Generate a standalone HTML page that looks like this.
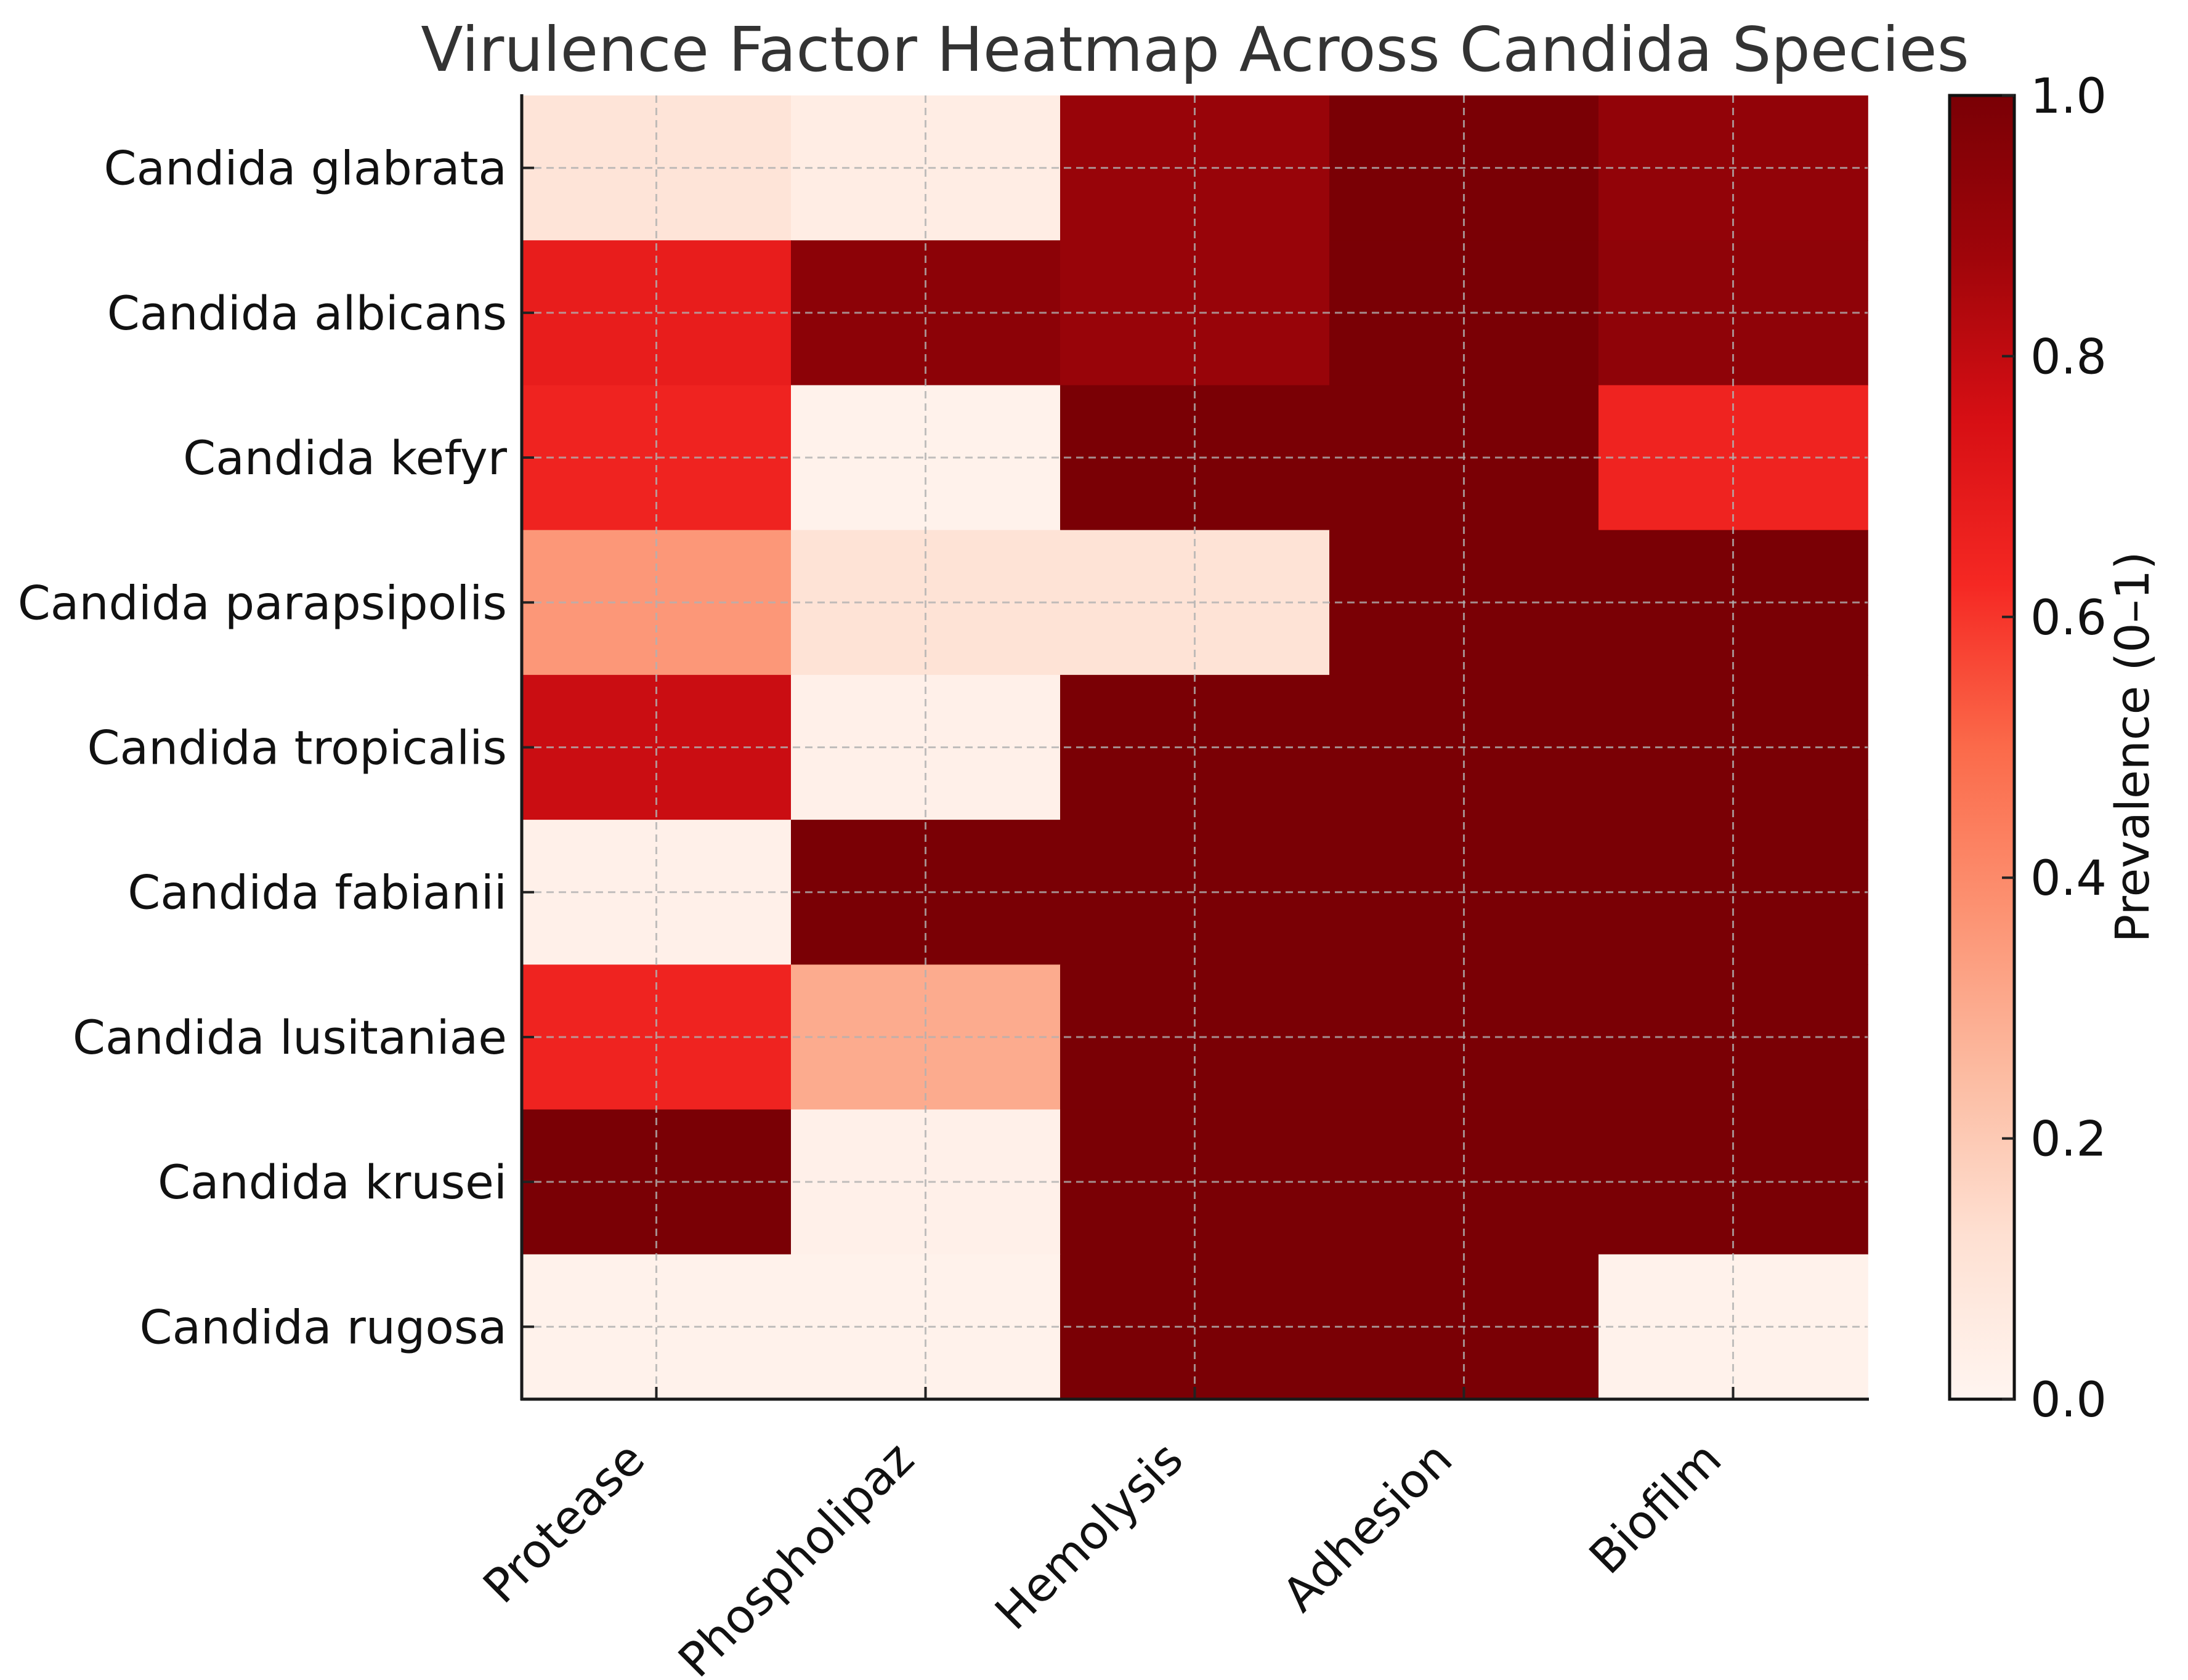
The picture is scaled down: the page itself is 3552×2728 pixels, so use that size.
<!DOCTYPE html>
<html><head><meta charset="utf-8"><style>
html,body{margin:0;padding:0;background:#fff;}
svg{display:block;font-family:"DejaVu Sans","Liberation Sans",sans-serif;}
</style></head><body>
<svg id="chart" xmlns="http://www.w3.org/2000/svg" width="3552" height="2728" viewBox="0 0 3552 2728">
<rect width="3552" height="2728" fill="#fff"/>
<text x="1940" y="115" font-size="100" text-anchor="middle" fill="#333">Virulence Factor Heatmap Across Candida Species</text>
<defs>
<linearGradient id="cbgrad" x1="0" y1="1" x2="0" y2="0">
<stop offset="0" stop-color="#fff5f0"/><stop offset="0.125" stop-color="#fee0d2"/><stop offset="0.25" stop-color="#fcbba1"/><stop offset="0.375" stop-color="#fc9272"/><stop offset="0.5" stop-color="#fb6a4a"/><stop offset="0.625" stop-color="#f52823"/><stop offset="0.75" stop-color="#d70f14"/><stop offset="0.875" stop-color="#a0050a"/><stop offset="1" stop-color="#7a0005"/>
</linearGradient>
</defs>
<g id="cells"></g>
<g id="grid"></g>
<g id="axes"></g>
<rect x="3165" y="155" width="105" height="2117" fill="url(#cbgrad)" stroke="#111" stroke-width="5"/>
<g id="cbticks"></g>
<text transform="translate(3488,1213) rotate(-90)" font-size="76" text-anchor="middle" fill="#111">Prevalence (0–1)</text>
</svg>
<script>
const species = ["Candida glabrata","Candida albicans","Candida kefyr","Candida parapsipolis","Candida tropicalis","Candida fabianii","Candida lusitaniae","Candida krusei","Candida rugosa"];
const factors = ["Protease","Phospholipaz","Hemolysis","Adhesion","Biofilm"];
const rowGlabrata = [0.10,0.05,0.90,1.00,0.92];
const rowAlbicans = [0.68,0.94,0.90,1.00,0.93];
const rowKefyr = [0.65,0.02,1.00,1.00,0.65];
const rowParapsipolis = [0.36,0.11,0.11,1.00,1.00];
const rowTropicalis = [0.78,0.03,1.00,1.00,1.00];
const rowFabianii = [0.03,1.00,1.00,1.00,1.00];
const rowLusitaniae = [0.65,0.30,1.00,1.00,1.00];
const rowKrusei = [1.00,0.03,1.00,1.00,1.00];
const rowRugosa = [0.02,0.02,1.00,1.00,0.02];
const values = [rowGlabrata,rowAlbicans,rowKefyr,rowParapsipolis,rowTropicalis,rowFabianii,rowLusitaniae,rowKrusei,rowRugosa];
const cbTicks = [0.0,0.2,0.4,0.6,0.8,1.0];
const cbTickLabels = ["0.0","0.2","0.4","0.6","0.8","1.0"];

const NS="http://www.w3.org/2000/svg";
const L=847,R=3032,T=155,B=2272;
const cw=(R-L)/factors.length, rh=(B-T)/species.length;
const xPos=i=>L+i*cw, yPos=j=>T+j*rh;
const cbY=v=>B-(B-T)*v;
const stops=[[255,245,240],[254,224,210],[252,187,161],[252,146,114],[251,106,74],[245,40,35],[215,15,20],[160,5,10],[122,0,5]];
function reds(v){v=Math.max(0,Math.min(1,v));const p=v*8,i=Math.min(7,Math.floor(p)),f=p-i;const a=stops[i],b=stops[i+1];return `rgb(${a.map((c,k)=>Math.round(c+(b[k]-c)*f)).join(',')})`;}
function mk(tag,attrs,parent,text){const e=document.createElementNS(NS,tag);for(const k in attrs)e.setAttribute(k,attrs[k]);if(text!==undefined)e.textContent=text;parent.appendChild(e);return e;}
const cells=document.getElementById('cells'),grid=document.getElementById('grid'),axes=document.getElementById('axes'),cbt=document.getElementById('cbticks');
values.forEach((row,j)=>row.forEach((v,i)=>{
  const r=mk('rect',{x:xPos(i),y:yPos(j),width:cw+0.8,height:rh+0.8,fill:reds(v)},cells);
  
  
}));
factors.forEach((f,i)=>{
  const cx=xPos(i)+cw/2;
  const g=mk('line',{x1:cx,y1:T,x2:cx,y2:B,stroke:'#b0b0b0','stroke-width':3,'stroke-dasharray':'12 8','stroke-opacity':0.8},grid);
  
  
  mk('line',{x1:cx,y1:B,x2:cx,y2:B-20,stroke:'#222','stroke-width':4},axes);
  const t=mk('text',{transform:`translate(${cx-55},${B+62}) rotate(-45)`,'font-size':76,'text-anchor':'end','dominant-baseline':'hanging',fill:'#111'},axes,f);
  
  
});
species.forEach((s,j)=>{
  const cy=yPos(j)+rh/2;
  const g=mk('line',{x1:L,y1:cy,x2:R,y2:cy,stroke:'#b0b0b0','stroke-width':3,'stroke-dasharray':'12 8','stroke-opacity':0.8},grid);
  
  
  mk('line',{x1:L,y1:cy,x2:L+20,y2:cy,stroke:'#222','stroke-width':4},axes);
  const t=mk('text',{x:L-24,y:cy+27,'font-size':76,'text-anchor':'end',fill:'#111'},axes,s);
  
  
});
const ls=mk('line',{x1:L,y1:T-2,x2:L,y2:B+2,stroke:'#1a1a1a','stroke-width':5},axes);


const bs=mk('line',{x1:L-2,y1:B,x2:R+2,y2:B,stroke:'#1a1a1a','stroke-width':5},axes);


cbTicks.forEach((v,k)=>{
  const y=cbY(v);
  mk('line',{x1:3250,y1:y,x2:3270,y2:y,stroke:'#222','stroke-width':4},cbt);
  const t=mk('text',{x:3296,y:y+28,'font-size':78,fill:'#111'},cbt,cbTickLabels[k]);
  
  
});
</script>
</body></html>
